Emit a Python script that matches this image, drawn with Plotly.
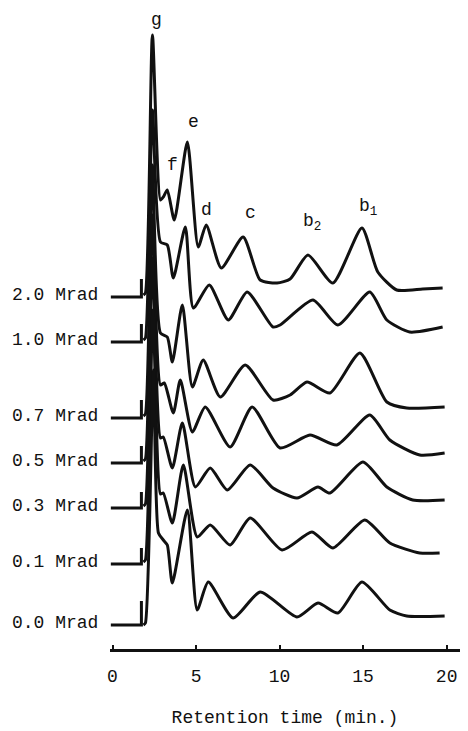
import plotly.graph_objects as go

# Dose labels (top to bottom) and baseline level of each chromatogram (arbitrary response units)
doses = ["2.0 Mrad", "1.0 Mrad", "0.7 Mrad", "0.5 Mrad", "0.3 Mrad", "0.1 Mrad", "0.0 Mrad"]
baselines = [352, 307, 231, 186, 141, 85, 24]
marker_heights = [18, 18, 18, 17, 16, 16, 24]
marker_time = 1.73
lead_start = -0.1

# Retention times (min) and detector response above each baseline
t_20 = [1.85, 1.97, 2.39, 2.87, 3.04, 3.28, 3.70, 4.48, 5.13, 5.61, 6.51, 7.82, 8.84, 9.85, 10.63, 11.70, 13.19, 14.93, 15.88, 17.01, 18.57, 19.76]
r_20 = [2, 4, 262, 97, 100, 107, 77, 155, 50, 72, 29, 60, 17, 14, 18, 42, 14, 69, 25, 7, 8, 9]

t_10 = [1.85, 1.97, 2.39, 2.87, 3.28, 3.64, 4.36, 4.84, 5.79, 6.93, 8.06, 9.61, 10.03, 12.00, 13.49, 15.40, 16.42, 17.79, 19.76]
r_10 = [2, 4, 232, 100, 97, 64, 115, 34, 57, 22, 50, 15, 17, 42, 17, 50, 22, 10, 15]

t_07 = [1.85, 1.97, 2.39, 2.87, 3.28, 3.58, 4.18, 4.78, 5.43, 6.45, 7.94, 9.61, 10.63, 11.64, 13.01, 14.81, 16.42, 17.61, 19.88]
r_07 = [2, 4, 253, 85, 81, 56, 113, 31, 58, 21, 53, 18, 23, 36, 25, 65, 16, 10, 11]

t_05 = [1.85, 1.97, 2.39, 2.87, 3.10, 3.64, 4.06, 4.78, 5.55, 7.04, 8.36, 10.03, 11.82, 13.43, 15.40, 16.60, 18.39, 19.88]
r_05 = [2, 4, 248, 78, 80, 50, 83, 31, 56, 16, 56, 15, 28, 18, 48, 23, 8, 10]

t_03 = [1.85, 1.97, 2.39, 2.87, 3.04, 3.58, 4.18, 4.96, 5.85, 6.87, 8.24, 9.61, 11.04, 12.30, 13.01, 14.99, 16.42, 17.97, 19.88]
r_03 = [2, 4, 250, 70, 71, 40, 85, 21, 40, 18, 43, 20, 10, 21, 15, 46, 21, 8, 8]

t_01 = [1.85, 1.97, 2.42, 2.87, 3.04, 3.58, 4.24, 5.07, 5.85, 7.04, 8.24, 10.15, 11.94, 13.19, 15.10, 16.60, 18.39, 19.58]
r_01 = [2, 4, 254, 70, 71, 41, 99, 27, 39, 19, 46, 14, 32, 16, 44, 21, 11, 11]

t_00 = [1.85, 1.97, 2.45, 2.75, 3.04, 3.28, 3.58, 4.48, 5.07, 5.73, 7.22, 8.84, 11.04, 12.30, 13.49, 14.93, 16.60, 17.61, 19.88]
r_00 = [0, 2, 255, 92, 85, 80, 42, 115, 15, 43, 7, 33, 8, 22, 12, 43, 15, 9, 9]

times = [t_20, t_10, t_07, t_05, t_03, t_01, t_00]
responses = [r_20, r_10, r_07, r_05, r_03, r_01, r_00]

# Peak labels
peak_names = ["g", "f", "e", "d", "c", "b<sub>2</sub>", "b<sub>1</sub>"]
peak_label_t = [2.66, 3.58, 4.84, 5.61, 8.24, 11.94, 15.28]
peak_label_y = [629, 484, 527, 439, 436, 427, 442]

x_ticks = [0, 5, 10, 15, 20]
x_title = "Retention time (min.)"

INK = "#111111"
FONT = "Liberation Mono, DejaVu Sans Mono, monospace"
X_RANGE = [-0.15, 20.8]
DOSE_LABEL_T = -0.75
LINE_W = 3

fig = go.Figure()
for base, mh, ts, rs in zip(baselines, marker_heights, times, responses):
    fig.add_trace(go.Scatter(
        x=[lead_start, marker_time, marker_time],
        y=[base, base, base + mh],
        mode="lines", line=dict(color=INK, width=LINE_W), hoverinfo="skip"))
    fig.add_trace(go.Scatter(
        x=ts, y=[base + r for r in rs],
        mode="lines", line=dict(color=INK, width=LINE_W, shape="spline", smoothing=0.6),
        hoverinfo="skip"))

label_paper_x = (DOSE_LABEL_T - X_RANGE[0]) / (X_RANGE[1] - X_RANGE[0])
for name, base in zip(doses, baselines):
    fig.add_annotation(x=label_paper_x, y=base + 2, xref="paper", yref="y", text=name,
                       showarrow=False, xanchor="right", yanchor="middle",
                       font=dict(family=FONT, size=18, color=INK))

for name, px_, py_ in zip(peak_names, peak_label_t, peak_label_y):
    fig.add_annotation(x=px_, y=py_, xref="x", yref="y", text=name,
                       showarrow=False, xanchor="center", yanchor="middle",
                       font=dict(family=FONT, size=18, color=INK))

# The page adds an 8px body margin, so the figure is sized/offset to compensate.
fig.update_layout(
    width=460, height=723,
    margin=dict(l=102, r=8, t=0, b=82),
    plot_bgcolor="white", paper_bgcolor="white",
    showlegend=False,
    xaxis=dict(range=X_RANGE, showline=True, linewidth=3, linecolor=INK,
               ticks="inside", ticklen=4, tickwidth=2, tickcolor=INK,
               tickvals=x_ticks, ticktext=[str(v) for v in x_ticks],
               tickfont=dict(family=FONT, size=18, color=INK),
               ticklabelstandoff=8, ticklabeloverflow="allow",
               showgrid=False, zeroline=False,
               title=dict(text=x_title, font=dict(family=FONT, size=18, color=INK), standoff=25)),
    yaxis=dict(range=[0, 641], visible=False, showgrid=False, zeroline=False),
)

fig.write_html("out.html")
